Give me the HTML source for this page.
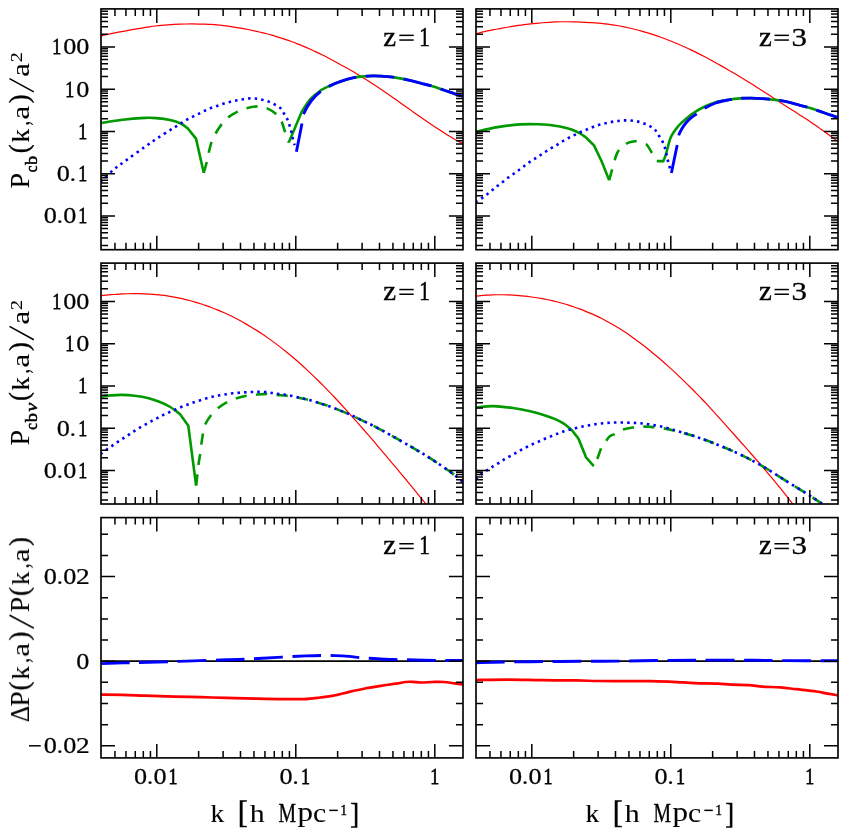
<!DOCTYPE html>
<html><head><meta charset="utf-8"><title>Power spectra</title>
<style>
html,body{margin:0;padding:0;background:#fff;}
body{width:845px;height:832px;overflow:hidden;font-family:"Liberation Serif",serif;}
svg{display:block;}
</style></head><body>
<svg width="845" height="832" viewBox="0 0 845 832">
<rect x="0" y="0" width="845" height="832" fill="#fff"/>
<defs>
<clipPath id="cp00"><rect x="101" y="8.9" width="362" height="240.8"/></clipPath>
<clipPath id="cp01"><rect x="476" y="8.9" width="362" height="240.8"/></clipPath>
<clipPath id="cp10"><rect x="101" y="263.1" width="362" height="240.9"/></clipPath>
<clipPath id="cp11"><rect x="476" y="263.1" width="362" height="240.9"/></clipPath>
<clipPath id="cp20"><rect x="101" y="517.6" width="362" height="240.3"/></clipPath>
<clipPath id="cp21"><rect x="476" y="517.6" width="362" height="240.3"/></clipPath>
</defs>
<g clip-path="url(#cp00)">
<path d="M100,35.97C101.03,35.75 104.11,35.13 106.17,34.69C108.23,34.26 110.28,33.79 112.34,33.37C114.4,32.94 116.45,32.55 118.51,32.17C120.56,31.78 122.62,31.43 124.68,31.06C126.73,30.7 128.79,30.33 130.85,29.95C132.9,29.58 134.96,29.18 137.02,28.82C139.07,28.46 141.13,28.13 143.19,27.79C145.24,27.46 147.3,27.12 149.36,26.82C151.41,26.52 153.47,26.23 155.53,25.98C157.58,25.73 159.64,25.52 161.69,25.33C163.75,25.13 165.81,24.98 167.86,24.83C169.92,24.68 171.98,24.55 174.03,24.43C176.09,24.32 178.15,24.22 180.2,24.14C182.26,24.07 184.32,24.02 186.37,23.99C188.43,23.95 190.49,23.93 192.54,23.94C194.6,23.95 196.66,23.99 198.71,24.03C200.77,24.06 202.82,24.1 204.88,24.17C206.94,24.24 208.99,24.31 211.05,24.43C213.11,24.56 215.16,24.72 217.22,24.92C219.28,25.11 221.33,25.35 223.39,25.6C225.45,25.84 227.5,26.11 229.56,26.39C231.62,26.68 233.67,26.98 235.73,27.31C237.79,27.63 239.84,27.98 241.9,28.34C243.95,28.71 246.01,29.11 248.07,29.52C250.12,29.93 252.18,30.36 254.24,30.81C256.29,31.26 258.35,31.73 260.41,32.22C262.46,32.72 264.52,33.22 266.58,33.76C268.63,34.29 270.69,34.85 272.75,35.45C274.8,36.05 276.86,36.69 278.92,37.35C280.97,38.01 283.03,38.69 285.08,39.39C287.14,40.09 289.2,40.81 291.25,41.56C293.31,42.3 295.37,43.07 297.42,43.86C299.48,44.66 301.54,45.48 303.59,46.34C305.65,47.2 307.71,48.1 309.76,49.02C311.82,49.94 313.88,50.88 315.93,51.85C317.99,52.82 320.05,53.81 322.1,54.83C324.16,55.85 326.21,56.89 328.27,57.96C330.33,59.03 332.38,60.13 334.44,61.25C336.5,62.37 338.55,63.53 340.61,64.66C342.67,65.8 344.72,66.89 346.78,68.04C348.84,69.19 350.89,70.37 352.95,71.56C355.01,72.76 357.06,73.97 359.12,75.22C361.18,76.47 363.23,77.76 365.29,79.06C367.34,80.37 369.4,81.69 371.46,83.04C373.51,84.38 375.57,85.74 377.63,87.12C379.68,88.49 381.74,89.89 383.8,91.29C385.85,92.7 387.91,94.12 389.97,95.55C392.02,96.98 394.08,98.42 396.14,99.86C398.19,101.31 400.25,102.76 402.31,104.22C404.36,105.67 406.42,107.13 408.47,108.59C410.53,110.04 412.59,111.5 414.64,112.95C416.7,114.4 418.76,115.85 420.81,117.28C422.87,118.71 424.93,120.14 426.98,121.55C429.04,122.96 431.1,124.36 433.15,125.73C435.21,127.1 437.27,128.46 439.32,129.79C441.38,131.12 443.44,132.43 445.49,133.7C447.55,134.97 449.6,136.22 451.66,137.43C453.72,138.63 455.77,139.81 457.83,140.94C459.89,142.07 462.97,143.67 464,144.21" fill="none" stroke="#ff0000" stroke-width="1.2" stroke-linejoin="round"/>
<path d="M100,123.3C103.75,122.7 115,120.6 122.5,119.7C130,118.8 139.38,118.17 145,117.9C150.62,117.63 152.03,117.75 156.2,118.1C160.37,118.45 165.9,119.1 170,120C174.1,120.9 177.83,122.1 180.8,123.5C183.77,124.9 186.63,127.58 187.8,128.4L196,138.7L203.75,172.8" fill="none" stroke="#009a00" stroke-width="2.6" stroke-linejoin="miter"/>
<path d="M203.75,172.8C204.26,170.98 205.98,165.25 206.8,161.9C207.62,158.55 207.9,156.03 208.7,152.7C209.5,149.37 210.48,145.05 211.6,141.9C212.72,138.75 213.77,136.68 215.4,133.8C217.03,130.92 219.32,127.3 221.4,124.6C223.48,121.9 225.2,119.77 227.9,117.6C230.6,115.43 234.53,113.17 237.6,111.6C240.67,110.03 243,109.07 246.3,108.2C249.6,107.33 254.1,106.45 257.4,106.4C260.7,106.35 263.03,106.67 266.1,107.9C269.17,109.13 273.28,111.65 275.8,113.8C278.32,115.95 279.67,117.82 281.2,120.8C282.73,123.78 283.73,128.08 285,131.7C286.27,135.32 288.17,140.7 288.8,142.5" fill="none" stroke="#009a00" stroke-width="2.6" stroke-dasharray="11.2 9.4" stroke-linejoin="round"/>
<path d="M288.8,142.5L301.8,111.6C303.23,109.53 307.15,102.8 310.4,99.2C313.65,95.6 318.05,92.25 321.3,90C324.55,87.75 326.67,87.13 329.9,85.7C333.13,84.27 336.73,82.73 340.7,81.4C344.67,80.07 349.67,78.55 353.7,77.7C357.73,76.85 361.53,76.6 364.9,76.3C368.27,76 370.15,75.85 373.9,75.9C377.65,75.95 383.27,76.23 387.4,76.6C391.53,76.97 394.95,77.47 398.7,78.1C402.45,78.73 406.15,79.53 409.9,80.4C413.65,81.27 417.45,82.33 421.2,83.3C424.95,84.27 428.65,85.08 432.4,86.2C436.15,87.32 439.95,88.72 443.7,90C447.45,91.28 451.68,92.85 454.9,93.9C458.12,94.95 461.65,95.9 463,96.3" fill="none" stroke="#009a00" stroke-width="2.6" stroke-linejoin="miter"/>
<path d="M100,182.2C102.25,180.13 109,173.55 113.5,169.8C118,166.05 121.75,163.53 127,159.7C132.25,155.87 139.83,150.45 145,146.8C150.17,143.15 153.75,140.63 158,137.8C162.25,134.97 167.42,131.73 170.5,129.8C173.58,127.87 174.57,127.38 176.5,126.2C178.43,125.02 180.22,123.87 182.1,122.7C183.98,121.53 185.85,120.28 187.8,119.2C189.75,118.12 191.82,117.18 193.8,116.2C195.78,115.22 197.72,114.28 199.7,113.3C201.68,112.32 203.72,111.22 205.7,110.3C207.68,109.38 209.57,108.57 211.6,107.8C213.63,107.03 215.82,106.42 217.9,105.7C219.98,104.98 221.98,104.17 224.1,103.5C226.22,102.83 228.43,102.23 230.6,101.7C232.77,101.17 234.93,100.72 237.1,100.3C239.27,99.88 241.45,99.52 243.6,99.2C245.75,98.88 247.75,98.48 250,98.4C252.25,98.32 254.93,98.45 257.1,98.7C259.27,98.95 260.97,99.37 263,99.9C265.03,100.43 267.25,101.08 269.3,101.9C271.35,102.72 273.4,103.72 275.3,104.8C277.2,105.88 279.2,106.85 280.7,108.4C282.2,109.95 283.13,112.17 284.3,114.1C285.47,116.03 286.8,118.02 287.7,120C288.6,121.98 289.07,123.92 289.7,126C290.33,128.08 290.97,130.38 291.5,132.5C292.03,134.62 292.37,136.58 292.9,138.7C293.43,140.82 294.4,144.12 294.7,145.2" fill="none" stroke="#0000ff" stroke-width="2.6" stroke-dasharray="2.5 4.1" stroke-dashoffset="-0.8" stroke-linejoin="round"/>
<path d="M296.4,151.7L302,123.5C302.27,121.92 302.02,117.83 303.6,114C305.18,110.17 308.55,104.33 311.5,100.5C314.45,96.67 318.23,93.43 321.3,91C324.37,88.57 326.67,87.5 329.9,85.9C333.13,84.3 336.73,82.77 340.7,81.4C344.67,80.03 349.67,78.55 353.7,77.7C357.73,76.85 361.53,76.6 364.9,76.3C368.27,76 370.15,75.85 373.9,75.9C377.65,75.95 383.27,76.23 387.4,76.6C391.53,76.97 394.95,77.47 398.7,78.1C402.45,78.73 406.15,79.53 409.9,80.4C413.65,81.27 417.45,82.33 421.2,83.3C424.95,84.27 428.65,85.08 432.4,86.2C436.15,87.32 439.95,88.72 443.7,90C447.45,91.28 451.68,92.85 454.9,93.9C458.12,94.95 461.65,95.9 463,96.3" fill="none" stroke="#0000ff" stroke-width="2.9" stroke-dasharray="28.7 9.6" stroke-linejoin="round"/>
</g>
<g clip-path="url(#cp01)">
<path d="M475,34.01C476.03,33.74 479.11,32.87 481.17,32.35C483.23,31.83 485.28,31.35 487.34,30.9C489.4,30.45 491.45,30.04 493.51,29.65C495.56,29.27 497.62,28.94 499.68,28.58C501.73,28.23 503.79,27.89 505.85,27.53C507.9,27.17 509.96,26.76 512.02,26.41C514.07,26.06 516.13,25.73 518.19,25.44C520.24,25.14 522.3,24.88 524.36,24.64C526.41,24.39 528.47,24.19 530.53,23.97C532.58,23.75 534.64,23.52 536.69,23.32C538.75,23.12 540.81,22.93 542.86,22.76C544.92,22.6 546.98,22.45 549.03,22.32C551.09,22.18 553.15,22.06 555.2,21.97C557.26,21.88 559.32,21.8 561.37,21.76C563.43,21.73 565.49,21.75 567.54,21.77C569.6,21.8 571.66,21.85 573.71,21.9C575.77,21.94 577.82,21.98 579.88,22.04C581.94,22.1 583.99,22.18 586.05,22.29C588.11,22.39 590.16,22.51 592.22,22.66C594.28,22.81 596.33,22.98 598.39,23.16C600.45,23.35 602.5,23.56 604.56,23.8C606.62,24.03 608.67,24.28 610.73,24.56C612.79,24.84 614.84,25.13 616.9,25.48C618.95,25.83 621.01,26.24 623.07,26.66C625.12,27.08 627.18,27.52 629.24,27.98C631.29,28.45 633.35,28.94 635.41,29.46C637.46,29.97 639.52,30.51 641.58,31.08C643.63,31.65 645.69,32.24 647.75,32.87C649.8,33.5 651.86,34.15 653.92,34.83C655.97,35.51 658.03,36.22 660.08,36.96C662.14,37.69 664.2,38.46 666.25,39.24C668.31,40.03 670.37,40.85 672.42,41.69C674.48,42.52 676.54,43.38 678.59,44.26C680.65,45.15 682.71,46.06 684.76,47C686.82,47.94 688.88,48.9 690.93,49.89C692.99,50.87 695.05,51.87 697.1,52.9C699.16,53.92 701.21,54.97 703.27,56.04C705.33,57.11 707.38,58.2 709.44,59.31C711.5,60.42 713.55,61.56 715.61,62.7C717.67,63.84 719.72,64.97 721.78,66.13C723.84,67.29 725.89,68.47 727.95,69.66C730.01,70.85 732.06,72.06 734.12,73.27C736.18,74.49 738.23,75.72 740.29,76.95C742.34,78.19 744.4,79.42 746.46,80.69C748.51,81.95 750.57,83.23 752.63,84.54C754.68,85.84 756.74,87.18 758.8,88.51C760.85,89.84 762.91,91.17 764.97,92.5C767.02,93.83 769.08,95.17 771.14,96.5C773.19,97.83 775.25,99.16 777.31,100.48C779.36,101.81 781.42,103.13 783.47,104.46C785.53,105.78 787.59,107.1 789.64,108.41C791.7,109.73 793.76,111.04 795.81,112.36C797.87,113.67 799.93,114.96 801.98,116.3C804.04,117.63 806.1,118.99 808.15,120.37C810.21,121.75 812.27,123.18 814.32,124.6C816.38,126.01 818.44,127.43 820.49,128.88C822.55,130.32 824.6,131.77 826.66,133.25C828.72,134.73 830.77,136.24 832.83,137.75C834.89,139.27 837.97,141.56 839,142.32" fill="none" stroke="#ff0000" stroke-width="1.2" stroke-linejoin="round"/>
<path d="M475,131.9C478.75,131.1 490,128.35 497.5,127.1C505,125.85 513.25,124.88 520,124.4C526.75,123.92 533,124.1 538,124.2C543,124.3 546.33,124.6 550,125C553.67,125.4 556.53,125.88 560,126.6C563.47,127.32 567.55,128.22 570.8,129.3C574.05,130.38 576.97,131.73 579.5,133.1C582.03,134.47 584.92,136.77 586,137.5L594.1,145.6L601.6,161.3L609.2,180.2" fill="none" stroke="#009a00" stroke-width="2.6" stroke-linejoin="miter"/>
<path d="M609.2,180.2C609.88,177.72 612.05,169.65 613.3,165.3C614.55,160.95 615.38,157.08 616.7,154.1C618.02,151.12 619.33,149.27 621.2,147.4C623.07,145.53 625.47,143.92 627.9,142.9C630.33,141.88 632.88,141.1 635.8,141.3C638.72,141.5 643.35,143.23 645.4,144.1C647.45,144.97 647.02,145.02 648.1,146.5C649.18,147.98 651.27,151.92 651.9,153" fill="none" stroke="#009a00" stroke-width="2.6" stroke-dasharray="11.2 9.4" stroke-linejoin="round"/>
<path d="M656.8,161.1L663.3,161.1C663.75,159.93 664.75,158.07 666,154.1C667.25,150.13 668.73,141.98 670.8,137.3C672.87,132.62 675.78,129.15 678.4,126C681.02,122.85 683.7,120.75 686.5,118.4C689.3,116.05 692.13,113.88 695.2,111.9C698.27,109.92 701.48,108.12 704.9,106.5C708.32,104.88 711.73,103.33 715.7,102.2C719.67,101.07 724.65,100.33 728.7,99.7C732.75,99.07 736.25,98.67 740,98.4C743.75,98.13 747.47,98.07 751.2,98.1C754.93,98.13 758.65,98.33 762.4,98.6C766.15,98.87 769.95,99.25 773.7,99.7C777.45,100.15 781.15,100.55 784.9,101.3C788.65,102.05 792.45,103.2 796.2,104.2C799.95,105.2 803.65,106.18 807.4,107.3C811.15,108.42 814.95,109.65 818.7,110.9C822.45,112.15 826.68,113.7 829.9,114.8C833.12,115.9 836.65,117.05 838,117.5" fill="none" stroke="#009a00" stroke-width="2.6" stroke-linejoin="miter"/>
<path d="M475,202.7C475.27,202.5 475.43,202.27 476.6,201.5C477.77,200.73 480.23,199.32 482,198.1C483.77,196.88 485.45,195.57 487.2,194.2C488.95,192.83 490.78,191.28 492.5,189.9C494.22,188.52 495.78,187.23 497.5,185.9C499.22,184.57 501.05,183.27 502.8,181.9C504.55,180.53 506.23,179.02 508,177.7C509.77,176.38 511.73,175.17 513.4,174C515.07,172.83 516.33,171.92 518,170.7C519.67,169.48 521.65,168.02 523.4,166.7C525.15,165.38 526.7,164.07 528.5,162.8C530.3,161.53 532.35,160.3 534.2,159.1C536.05,157.9 537.78,156.78 539.6,155.6C541.42,154.42 543.25,153.18 545.1,152C546.95,150.82 548.8,149.65 550.7,148.5C552.6,147.35 554.62,146.25 556.5,145.1C558.38,143.95 560.15,142.7 562,141.6C563.85,140.5 565.68,139.52 567.6,138.5C569.52,137.48 571.52,136.48 573.5,135.5C575.48,134.52 577.52,133.5 579.5,132.6C581.48,131.7 583.37,130.95 585.4,130.1C587.43,129.25 589.62,128.32 591.7,127.5C593.78,126.68 595.78,125.85 597.9,125.2C600.02,124.55 602.25,124.12 604.4,123.6C606.55,123.08 608.65,122.53 610.8,122.1C612.95,121.67 615.1,121.28 617.3,121C619.5,120.72 621.8,120.48 624,120.4C626.2,120.32 628.33,120.33 630.5,120.5C632.67,120.67 634.85,120.95 637,121.4C639.15,121.85 641.33,122.47 643.4,123.2C645.47,123.93 647.48,124.72 649.4,125.8C651.32,126.88 653.37,128.13 654.9,129.7C656.43,131.27 657.38,133.33 658.6,135.2C659.82,137.07 661.18,138.92 662.2,140.9C663.22,142.88 664.03,145.05 664.7,147.1C665.37,149.15 665.72,151.13 666.2,153.2C666.68,155.27 667.07,157.33 667.6,159.5C668.13,161.67 668.8,164 669.4,166.2C670,168.4 670.9,171.62 671.2,172.7" fill="none" stroke="#0000ff" stroke-width="2.6" stroke-dasharray="2.5 4.1" stroke-dashoffset="-0.8" stroke-linejoin="round"/>
<path d="M671.4,173L677,146C677.23,144.37 677.57,139.12 678.4,136.2C679.23,133.28 680.65,130.83 682,128.5C683.35,126.17 685,123.98 686.5,122.2C688,120.42 689.37,119.15 691,117.8C692.63,116.45 694.07,115.67 696.3,114.1C698.53,112.53 701.17,110.25 704.4,108.4C707.63,106.55 711.65,104.42 715.7,103C719.75,101.58 724.65,100.67 728.7,99.9C732.75,99.13 736.25,98.7 740,98.4C743.75,98.1 747.47,98.07 751.2,98.1C754.93,98.13 758.65,98.33 762.4,98.6C766.15,98.87 769.95,99.25 773.7,99.7C777.45,100.15 781.15,100.55 784.9,101.3C788.65,102.05 792.45,103.2 796.2,104.2C799.95,105.2 803.65,106.18 807.4,107.3C811.15,108.42 814.95,109.65 818.7,110.9C822.45,112.15 826.68,113.7 829.9,114.8C833.12,115.9 836.65,117.05 838,117.5" fill="none" stroke="#0000ff" stroke-width="2.9" stroke-dasharray="28.7 9.6" stroke-linejoin="round"/>
</g>
<g clip-path="url(#cp10)">
<path d="M100,295.74C100.93,295.65 103.73,295.37 105.59,295.2C107.46,295.03 109.32,294.86 111.19,294.71C113.05,294.56 114.92,294.42 116.78,294.29C118.64,294.17 120.51,294.06 122.37,293.97C124.24,293.88 126.1,293.82 127.97,293.77C129.83,293.71 131.69,293.67 133.56,293.66C135.42,293.64 137.29,293.64 139.15,293.67C141.02,293.69 142.88,293.75 144.75,293.82C146.61,293.9 148.47,294 150.34,294.13C152.2,294.26 154.07,294.42 155.93,294.6C157.8,294.78 159.66,294.99 161.53,295.22C163.39,295.44 165.25,295.68 167.12,295.95C168.98,296.22 170.85,296.52 172.71,296.85C174.58,297.18 176.44,297.53 178.31,297.91C180.17,298.29 182.03,298.7 183.9,299.13C185.76,299.57 187.63,300.03 189.49,300.52C191.36,301 193.22,301.52 195.08,302.06C196.95,302.61 198.81,303.18 200.68,303.77C202.54,304.37 204.41,305 206.27,305.65C208.14,306.3 210,306.98 211.86,307.69C213.73,308.39 215.59,309.13 217.46,309.89C219.32,310.65 221.19,311.44 223.05,312.26C224.92,313.08 226.78,313.92 228.64,314.8C230.51,315.68 232.37,316.6 234.24,317.55C236.1,318.5 237.97,319.48 239.83,320.49C241.69,321.5 243.56,322.54 245.42,323.61C247.29,324.68 249.15,325.77 251.02,326.9C252.88,328.03 254.75,329.19 256.61,330.38C258.47,331.56 260.34,332.78 262.2,334.03C264.07,335.28 265.93,336.56 267.8,337.87C269.66,339.18 271.53,340.52 273.39,341.89C275.25,343.26 277.12,344.66 278.98,346.1C280.85,347.53 282.71,348.99 284.58,350.49C286.44,351.98 288.31,353.5 290.17,355.06C292.03,356.61 293.9,358.2 295.76,359.81C297.63,361.42 299.49,363.07 301.36,364.74C303.22,366.41 305.08,368.11 306.95,369.84C308.81,371.57 310.68,373.33 312.54,375.11C314.41,376.9 316.27,378.71 318.14,380.55C320,382.38 321.86,384.25 323.73,386.13C325.59,388.02 327.46,389.93 329.32,391.87C331.19,393.8 333.05,395.76 334.92,397.74C336.78,399.71 338.64,401.72 340.51,403.73C342.37,405.75 344.24,407.79 346.1,409.84C347.97,411.9 349.83,413.97 351.69,416.06C353.56,418.15 355.42,420.25 357.29,422.37C359.15,424.48 361.02,426.62 362.88,428.76C364.75,430.9 366.61,433.05 368.47,435.22C370.34,437.38 372.2,439.55 374.07,441.73C375.93,443.91 377.8,446.1 379.66,448.3C381.53,450.49 383.39,452.7 385.25,454.91C387.12,457.11 388.98,459.33 390.85,461.55C392.71,463.77 394.58,465.99 396.44,468.22C398.31,470.45 400.17,472.69 402.03,474.93C403.9,477.17 405.76,479.41 407.63,481.67C409.49,483.92 411.36,486.18 413.22,488.46C415.08,490.73 416.95,493.01 418.81,495.3C420.68,497.6 422.54,499.91 424.41,502.23C426.27,504.56 429.07,508.1 430,509.28" fill="none" stroke="#ff0000" stroke-width="1.2" stroke-linejoin="round"/>
<path d="M100,396.6C100.37,396.57 100.37,396.6 102.2,396.4C104.03,396.2 107.77,395.65 111,395.4C114.23,395.15 117.67,394.85 121.6,394.9C125.53,394.95 130.08,395.15 134.6,395.7C139.12,396.25 144.37,397.12 148.7,398.2C153.03,399.28 157,400.73 160.6,402.2C164.2,403.67 167.07,405.02 170.3,407C173.53,408.98 178.38,412.92 180,414.1L188.3,425.8L196.1,485.5" fill="none" stroke="#009a00" stroke-width="2.6" stroke-linejoin="miter"/>
<path d="M196.1,485.5C196.32,483.73 197.02,478.32 197.4,474.9C197.78,471.48 197.93,468.52 198.4,465C198.87,461.48 199.72,457.22 200.2,453.8C200.68,450.38 200.82,447.92 201.3,444.5C201.78,441.08 202.47,436.6 203.1,433.3C203.73,430 203.78,427.72 205.1,424.7C206.42,421.68 208.92,417.9 211,415.2C213.08,412.5 214.92,410.67 217.6,408.5C220.28,406.33 224.08,403.85 227.1,402.2C230.12,400.55 232.47,399.67 235.7,398.6C238.93,397.53 243.17,396.45 246.5,395.8C249.83,395.15 252.25,395.02 255.7,394.7C259.15,394.38 263.65,393.87 267.2,393.9C270.75,393.93 273.62,394.57 277,394.9C280.38,395.23 284.25,395.48 287.5,395.9C290.75,396.32 293.62,396.9 296.5,397.4C299.38,397.9 302.35,398.37 304.8,398.9C307.25,399.43 309.08,400 311.2,400.6C313.32,401.2 315.4,401.83 317.5,402.5C319.6,403.17 321.73,403.93 323.8,404.6C325.87,405.27 327.82,405.77 329.9,406.5C331.98,407.23 334.22,408.18 336.3,409C338.38,409.82 340.35,410.57 342.4,411.4C344.45,412.23 346.6,413.12 348.6,414C350.6,414.88 351.45,415.3 354.4,416.7C357.35,418.1 363.3,420.97 366.3,422.4C369.3,423.83 369.45,423.8 372.4,425.3C375.35,426.8 381.12,429.85 384,431.4C386.88,432.95 387.03,433.1 389.7,434.6C392.37,436.1 395.13,437.62 400,440.4C404.87,443.18 412.92,447.7 418.9,451.3C424.88,454.9 430.22,458.23 435.9,462C441.58,465.77 448.48,470.57 453,473.9C457.52,477.23 461.33,480.65 463,482" fill="none" stroke="#009a00" stroke-width="2.6" stroke-dasharray="11.2 9.4" stroke-linejoin="round"/>
<path d="M100,454.5C100.27,454.3 100.43,454.18 101.6,453.3C102.77,452.42 105.15,450.52 107,449.2C108.85,447.88 110.85,446.65 112.7,445.4C114.55,444.15 116.28,442.92 118.1,441.7C119.92,440.48 121.75,439.32 123.6,438.1C125.45,436.88 127.37,435.62 129.2,434.4C131.03,433.18 132.75,431.97 134.6,430.8C136.45,429.63 138.37,428.52 140.3,427.4C142.23,426.28 144.27,425.18 146.2,424.1C148.13,423.02 149.98,421.93 151.9,420.9C153.82,419.87 155.77,418.92 157.7,417.9C159.63,416.88 161.52,415.77 163.5,414.8C165.48,413.83 167.6,412.98 169.6,412.1C171.6,411.22 173.45,410.39 175.5,409.5C177.55,408.61 179.82,407.59 181.9,406.75C183.98,405.91 185.97,405.21 188,404.45C190.03,403.69 192.03,402.91 194.1,402.2C196.17,401.49 198.28,400.87 200.4,400.2C202.52,399.53 204.65,398.8 206.8,398.2C208.95,397.6 211.17,397.08 213.3,396.6C215.43,396.12 217.45,395.68 219.6,395.3C221.75,394.92 224,394.63 226.2,394.3C228.4,393.97 230.6,393.57 232.8,393.3C235,393.03 237.18,392.87 239.4,392.7C241.62,392.53 243.88,392.42 246.1,392.3C248.32,392.18 250.5,392.07 252.7,392C254.9,391.93 257.03,391.88 259.3,391.9C261.57,391.92 264.12,391.92 266.3,392.1C268.48,392.28 270.32,392.68 272.4,393C274.48,393.32 276.65,393.7 278.8,394C280.95,394.3 283.1,394.48 285.3,394.8C287.5,395.12 289.82,395.45 292,395.9C294.18,396.35 296.27,397 298.4,397.5C300.53,398 302.67,398.38 304.8,398.9C306.93,399.42 309.08,400 311.2,400.6C313.32,401.2 315.4,401.83 317.5,402.5C319.6,403.17 321.73,403.93 323.8,404.6C325.87,405.27 327.82,405.77 329.9,406.5C331.98,407.23 334.22,408.18 336.3,409C338.38,409.82 340.35,410.57 342.4,411.4C344.45,412.23 346.6,413.12 348.6,414C350.6,414.88 351.45,415.3 354.4,416.7C357.35,418.1 363.3,420.97 366.3,422.4C369.3,423.83 369.45,423.8 372.4,425.3C375.35,426.8 381.12,429.85 384,431.4C386.88,432.95 387.03,433.1 389.7,434.6C392.37,436.1 395.13,437.62 400,440.4C404.87,443.18 412.92,447.7 418.9,451.3C424.88,454.9 430.22,458.23 435.9,462C441.58,465.77 448.48,470.57 453,473.9C457.52,477.23 461.33,480.65 463,482" fill="none" stroke="#0000ff" stroke-width="2.6" stroke-dasharray="2.5 4.1" stroke-dashoffset="-0.8" stroke-linejoin="round"/>
</g>
<g clip-path="url(#cp11)">
<path d="M475,296.31C475.92,296.21 478.67,295.86 480.51,295.68C482.34,295.5 484.18,295.35 486.02,295.22C487.85,295.1 489.69,295 491.53,294.92C493.36,294.85 495.2,294.8 497.03,294.77C498.87,294.74 500.71,294.74 502.54,294.76C504.38,294.78 506.21,294.83 508.05,294.89C509.89,294.96 511.72,295.05 513.56,295.16C515.4,295.27 517.23,295.4 519.07,295.56C520.9,295.71 522.74,295.89 524.58,296.08C526.41,296.28 528.25,296.5 530.08,296.74C531.92,296.98 533.76,297.24 535.59,297.53C537.43,297.81 539.27,298.12 541.1,298.44C542.94,298.77 544.77,299.12 546.61,299.5C548.45,299.87 550.28,300.27 552.12,300.69C553.95,301.11 555.79,301.56 557.63,302.03C559.46,302.5 561.3,303 563.14,303.52C564.97,304.04 566.81,304.59 568.64,305.16C570.48,305.73 572.32,306.33 574.15,306.96C575.99,307.59 577.82,308.25 579.66,308.93C581.5,309.62 583.33,310.33 585.17,311.07C587.01,311.82 588.84,312.59 590.68,313.39C592.51,314.2 594.35,315.03 596.19,315.9C598.02,316.76 599.86,317.66 601.69,318.59C603.53,319.52 605.37,320.48 607.2,321.48C609.04,322.47 610.88,323.5 612.71,324.56C614.55,325.62 616.38,326.72 618.22,327.85C620.06,328.97 621.89,330.14 623.73,331.33C625.56,332.53 627.4,333.76 629.24,335.02C631.07,336.28 632.91,337.58 634.75,338.91C636.58,340.24 638.42,341.6 640.25,343C642.09,344.4 643.93,345.83 645.76,347.29C647.6,348.74 649.44,350.24 651.27,351.73C653.11,353.23 654.94,354.72 656.78,356.26C658.62,357.79 660.45,359.36 662.29,360.96C664.12,362.56 665.96,364.18 667.8,365.84C669.63,367.49 671.47,369.17 673.31,370.88C675.14,372.58 676.98,374.32 678.81,376.07C680.65,377.82 682.49,379.58 684.32,381.37C686.16,383.15 687.99,384.95 689.83,386.78C691.67,388.6 693.5,390.45 695.34,392.31C697.18,394.17 699.01,396.04 700.85,397.94C702.68,399.84 704.52,401.75 706.36,403.71C708.19,405.68 710.03,407.71 711.86,409.72C713.7,411.74 715.54,413.76 717.37,415.79C719.21,417.83 721.05,419.87 722.88,421.91C724.72,423.96 726.55,426.02 728.39,428.08C730.23,430.14 732.06,432.2 733.9,434.27C735.73,436.34 737.57,438.41 739.41,440.49C741.24,442.56 743.08,444.64 744.92,446.72C746.75,448.81 748.59,450.89 750.42,452.98C752.26,455.07 754.1,457.14 755.93,459.26C757.77,461.37 759.6,463.52 761.44,465.67C763.28,467.83 765.11,469.99 766.95,472.16C768.79,474.34 770.62,476.52 772.46,478.72C774.29,480.91 776.13,483.12 777.97,485.36C779.8,487.6 781.64,489.84 783.47,492.13C785.31,494.42 787.15,496.72 788.98,499.07C790.82,501.42 792.66,503.8 794.49,506.23C796.33,508.66 799.08,512.43 800,513.67" fill="none" stroke="#ff0000" stroke-width="1.2" stroke-linejoin="round"/>
<path d="M475,407.7C475.37,407.65 474.13,407.67 477.2,407.4C480.27,407.13 487.45,406 493.4,406.1C499.35,406.2 506.95,407.18 512.9,408C518.85,408.82 524.23,409.92 529.1,411C533.97,412.08 538.13,413.28 542.1,414.5C546.07,415.72 549.87,417.12 552.9,418.3C555.93,419.48 558.22,420.52 560.3,421.6C562.38,422.68 563.47,423.35 565.4,424.8C567.33,426.25 569.7,427.95 571.9,430.3C574.1,432.65 577.48,437.47 578.6,438.9L586,457.3L593.8,466.2" fill="none" stroke="#009a00" stroke-width="2.6" stroke-linejoin="miter"/>
<path d="M597.3,459C597.9,457.28 599.95,451.2 600.9,448.7C601.85,446.2 602.15,445.3 603,444C603.85,442.7 604.87,442.2 606,440.9C607.13,439.6 608.37,437.33 609.8,436.2C611.23,435.07 612.35,435.23 614.6,434.1C616.85,432.97 620.05,430.53 623.3,429.4C626.55,428.27 630.77,427.77 634.1,427.3C637.43,426.83 640.65,426.68 643.3,426.6C645.95,426.52 647.22,426.6 650,426.8C652.78,427 656.25,427.23 660,427.8C663.75,428.37 666.67,428.77 672.5,430.2C678.33,431.63 687.5,433.98 695,436.4C702.5,438.82 710,441.7 717.5,444.7C725,447.7 732.52,450.83 740,454.4C747.48,457.97 754.92,461.8 762.4,466.1C769.88,470.4 777.4,475.53 784.9,480.2C792.4,484.87 801.03,490.07 807.4,494.1C813.77,498.13 819,501.72 823.1,504.4C827.2,507.08 830.52,509.23 832,510.2" fill="none" stroke="#009a00" stroke-width="2.6" stroke-dasharray="11.2 9.4" stroke-linejoin="round"/>
<path d="M475,479.6C475.37,479.3 475.97,478.83 477.2,477.8C478.43,476.77 480.6,474.77 482.4,473.4C484.2,472.03 486.17,470.8 488,469.6C489.83,468.4 491.57,467.33 493.4,466.2C495.23,465.07 497.12,463.98 499,462.8C500.88,461.62 502.78,460.25 504.7,459.1C506.62,457.95 508.57,456.97 510.5,455.9C512.43,454.83 514.37,453.78 516.3,452.7C518.23,451.62 520.15,450.45 522.1,449.4C524.05,448.35 526.02,447.38 528,446.4C529.98,445.42 532.02,444.4 534,443.5C535.98,442.6 537.92,441.87 539.9,441C541.88,440.13 543.88,439.15 545.9,438.3C547.92,437.45 549.93,436.72 552,435.9C554.07,435.08 556.25,434.18 558.3,433.4C560.35,432.62 562.22,431.87 564.3,431.2C566.38,430.53 568.63,429.97 570.8,429.4C572.97,428.83 575.13,428.32 577.3,427.8C579.47,427.28 581.63,426.75 583.8,426.3C585.97,425.85 588.13,425.48 590.3,425.1C592.47,424.72 594.63,424.3 596.8,424C598.97,423.7 601.13,423.52 603.3,423.3C605.47,423.08 607.6,422.83 609.8,422.7C612,422.57 614.28,422.53 616.5,422.5C618.72,422.47 620.88,422.47 623.1,422.5C625.32,422.53 627.6,422.62 629.8,422.7C632,422.78 634.13,422.87 636.3,423C638.47,423.13 640.65,423.28 642.8,423.5C644.95,423.72 646.33,423.83 649.2,424.3C652.07,424.77 656.12,425.42 660,426.3C663.88,427.18 666.67,427.92 672.5,429.6C678.33,431.28 687.5,433.88 695,436.4C702.5,438.92 710,441.7 717.5,444.7C725,447.7 732.52,450.83 740,454.4C747.48,457.97 754.92,461.8 762.4,466.1C769.88,470.4 777.4,475.53 784.9,480.2C792.4,484.87 801.03,490.07 807.4,494.1C813.77,498.13 819,501.72 823.1,504.4C827.2,507.08 830.52,509.23 832,510.2" fill="none" stroke="#0000ff" stroke-width="2.6" stroke-dasharray="2.5 4.1" stroke-dashoffset="-0.8" stroke-linejoin="round"/>
</g>
<g clip-path="url(#cp20)">
<path d="M101,661.1L463,661.1" fill="none" stroke="#000" stroke-width="1.6" stroke-linejoin="round"/>
<path d="M101,663.6C105.83,663.45 118.92,663.02 130,662.7C141.08,662.38 154.7,662.08 167.5,661.7C180.3,661.32 194.07,660.8 206.8,660.4C219.53,660 231.35,659.85 243.9,659.3C256.45,658.75 271.75,657.67 282.1,657.1C292.45,656.53 299.5,656.17 306,655.9C312.5,655.63 316.27,655.55 321.1,655.5C325.93,655.45 330.32,655.45 335,655.6C339.68,655.75 345.15,656.07 349.2,656.4C353.25,656.73 356.12,657.3 359.3,657.6C362.48,657.9 363.98,657.92 368.3,658.2C372.62,658.48 380.32,659.07 385.2,659.3C390.08,659.53 394.03,659.52 397.6,659.6C401.17,659.68 400.23,659.67 406.6,659.8C412.97,659.93 426.4,660.3 435.8,660.4C445.2,660.5 458.47,660.4 463,660.4" fill="none" stroke="#0000ff" stroke-width="2.9" stroke-dasharray="28.7 9.6" stroke-linejoin="round"/>
<path d="M100,694.6C103.75,694.63 115,694.62 122.5,694.8C130,694.98 137.5,695.43 145,695.7C152.5,695.97 160,696.2 167.5,696.4C175,696.6 182.52,696.72 190,696.9C197.48,697.08 204.92,697.28 212.4,697.5C219.88,697.72 227.4,698 234.9,698.2C242.4,698.4 249.9,698.55 257.4,698.7C264.9,698.85 274.72,699.03 279.9,699.1C285.08,699.17 284.45,699.1 288.5,699.1C292.55,699.1 298.95,699.37 304.2,699.1C309.45,698.83 315.12,698.07 320,697.5C324.88,696.93 328.63,696.63 333.5,695.7C338.37,694.77 343.97,693.1 349.2,691.9C354.43,690.7 359.65,689.52 364.9,688.5C370.15,687.48 375.45,686.62 380.7,685.8C385.95,684.98 392.28,684.23 396.4,683.6C400.52,682.97 402.77,682.3 405.4,682C408.03,681.7 409.57,681.72 412.2,681.8C414.83,681.88 417.83,682.47 421.2,682.5C424.57,682.53 428.65,682.08 432.4,682C436.15,681.92 439.95,681.77 443.7,682C447.45,682.23 451.68,682.98 454.9,683.4C458.12,683.82 461.65,684.32 463,684.5" fill="none" stroke="#ff0000" stroke-width="2.7" stroke-linejoin="round"/>
</g>
<g clip-path="url(#cp21)">
<path d="M476,661.1L838,661.1" fill="none" stroke="#000" stroke-width="1.6" stroke-linejoin="round"/>
<path d="M476,662.7C480.7,662.58 493.12,662.18 504.2,662C515.28,661.82 529.57,661.72 542.5,661.6C555.43,661.48 569.07,661.38 581.8,661.3C594.53,661.22 606.35,661.23 618.9,661.1C631.45,660.97 644.42,660.65 657.1,660.5C669.78,660.35 681.18,660.25 695,660.2C708.82,660.15 725,660.13 740,660.2C755,660.27 768.67,660.5 785,660.6C801.33,660.7 829.17,660.77 838,660.8" fill="none" stroke="#0000ff" stroke-width="2.9" stroke-dasharray="28.7 9.6" stroke-linejoin="round"/>
<path d="M475,680C480.62,679.93 497.45,679.57 508.7,679.6C519.95,679.63 531.25,680.07 542.5,680.2C553.75,680.33 566.95,680.27 576.2,680.4C585.45,680.53 590.5,680.88 598,681C605.5,681.12 613.58,681.08 621.2,681.1C628.82,681.12 638.9,681.1 643.7,681.1C648.5,681.1 645.2,680.98 650,681.1C654.8,681.22 665,681.47 672.5,681.8C680,682.13 687.5,682.8 695,683.1C702.5,683.4 711.5,683.33 717.5,683.6C723.5,683.87 725.77,684.43 731,684.7C736.23,684.97 743.67,684.87 748.9,685.2C754.13,685.53 757.15,686.33 762.4,686.7C767.65,687.07 774.77,686.98 780.4,687.4C786.03,687.82 790.2,688.52 796.2,689.2C802.2,689.88 811.15,690.75 816.4,691.5C821.65,692.25 824.1,693.07 827.7,693.7C831.3,694.33 836.28,695.03 838,695.3" fill="none" stroke="#ff0000" stroke-width="2.7" stroke-linejoin="round"/>
</g>
<path d="M114.96,8.9v7M114.96,249.7v-7M125.96,8.9v7M125.96,249.7v-7M135.27,8.9v7M135.27,249.7v-7M143.33,8.9v7M143.33,249.7v-7M150.44,8.9v7M150.44,249.7v-7M156.8,8.9v14M156.8,249.7v-14M198.64,8.9v7M198.64,249.7v-7M223.12,8.9v7M223.12,249.7v-7M240.49,8.9v7M240.49,249.7v-7M253.96,8.9v7M253.96,249.7v-7M264.96,8.9v7M264.96,249.7v-7M274.27,8.9v7M274.27,249.7v-7M282.33,8.9v7M282.33,249.7v-7M289.44,8.9v7M289.44,249.7v-7M295.8,8.9v14M295.8,249.7v-14M337.64,8.9v7M337.64,249.7v-7M362.12,8.9v7M362.12,249.7v-7M379.49,8.9v7M379.49,249.7v-7M392.96,8.9v7M392.96,249.7v-7M403.96,8.9v7M403.96,249.7v-7M413.27,8.9v7M413.27,249.7v-7M421.33,8.9v7M421.33,249.7v-7M428.44,8.9v7M428.44,249.7v-7M434.8,8.9v14M434.8,249.7v-14M101,245.43h7M463,245.43h-7M101,237.99h7M463,237.99h-7M101,232.71h7M463,232.71h-7M101,228.62h7M463,228.62h-7M101,225.27h7M463,225.27h-7M101,222.44h7M463,222.44h-7M101,219.99h7M463,219.99h-7M101,217.83h7M463,217.83h-7M101,215.9h14M463,215.9h-14M101,203.18h7M463,203.18h-7M101,195.74h7M463,195.74h-7M101,190.46h7M463,190.46h-7M101,186.37h7M463,186.37h-7M101,183.02h7M463,183.02h-7M101,180.19h7M463,180.19h-7M101,177.74h7M463,177.74h-7M101,175.58h7M463,175.58h-7M101,173.65h14M463,173.65h-14M101,160.93h7M463,160.93h-7M101,153.49h7M463,153.49h-7M101,148.21h7M463,148.21h-7M101,144.12h7M463,144.12h-7M101,140.77h7M463,140.77h-7M101,137.94h7M463,137.94h-7M101,135.49h7M463,135.49h-7M101,133.33h7M463,133.33h-7M101,131.4h14M463,131.4h-14M101,118.68h7M463,118.68h-7M101,111.24h7M463,111.24h-7M101,105.96h7M463,105.96h-7M101,101.87h7M463,101.87h-7M101,98.52h7M463,98.52h-7M101,95.69h7M463,95.69h-7M101,93.24h7M463,93.24h-7M101,91.08h7M463,91.08h-7M101,89.15h14M463,89.15h-14M101,76.43h7M463,76.43h-7M101,68.99h7M463,68.99h-7M101,63.71h7M463,63.71h-7M101,59.62h7M463,59.62h-7M101,56.27h7M463,56.27h-7M101,53.44h7M463,53.44h-7M101,50.99h7M463,50.99h-7M101,48.83h7M463,48.83h-7M101,46.9h14M463,46.9h-14M101,34.18h7M463,34.18h-7M101,26.74h7M463,26.74h-7M101,21.46h7M463,21.46h-7M101,17.37h7M463,17.37h-7M101,14.02h7M463,14.02h-7M101,11.19h7M463,11.19h-7M489.96,8.9v7M489.96,249.7v-7M500.96,8.9v7M500.96,249.7v-7M510.27,8.9v7M510.27,249.7v-7M518.33,8.9v7M518.33,249.7v-7M525.44,8.9v7M525.44,249.7v-7M531.8,8.9v14M531.8,249.7v-14M573.64,8.9v7M573.64,249.7v-7M598.12,8.9v7M598.12,249.7v-7M615.49,8.9v7M615.49,249.7v-7M628.96,8.9v7M628.96,249.7v-7M639.96,8.9v7M639.96,249.7v-7M649.27,8.9v7M649.27,249.7v-7M657.33,8.9v7M657.33,249.7v-7M664.44,8.9v7M664.44,249.7v-7M670.8,8.9v14M670.8,249.7v-14M712.64,8.9v7M712.64,249.7v-7M737.12,8.9v7M737.12,249.7v-7M754.49,8.9v7M754.49,249.7v-7M767.96,8.9v7M767.96,249.7v-7M778.96,8.9v7M778.96,249.7v-7M788.27,8.9v7M788.27,249.7v-7M796.33,8.9v7M796.33,249.7v-7M803.44,8.9v7M803.44,249.7v-7M809.8,8.9v14M809.8,249.7v-14M476,245.43h7M838,245.43h-7M476,237.99h7M838,237.99h-7M476,232.71h7M838,232.71h-7M476,228.62h7M838,228.62h-7M476,225.27h7M838,225.27h-7M476,222.44h7M838,222.44h-7M476,219.99h7M838,219.99h-7M476,217.83h7M838,217.83h-7M476,215.9h14M838,215.9h-14M476,203.18h7M838,203.18h-7M476,195.74h7M838,195.74h-7M476,190.46h7M838,190.46h-7M476,186.37h7M838,186.37h-7M476,183.02h7M838,183.02h-7M476,180.19h7M838,180.19h-7M476,177.74h7M838,177.74h-7M476,175.58h7M838,175.58h-7M476,173.65h14M838,173.65h-14M476,160.93h7M838,160.93h-7M476,153.49h7M838,153.49h-7M476,148.21h7M838,148.21h-7M476,144.12h7M838,144.12h-7M476,140.77h7M838,140.77h-7M476,137.94h7M838,137.94h-7M476,135.49h7M838,135.49h-7M476,133.33h7M838,133.33h-7M476,131.4h14M838,131.4h-14M476,118.68h7M838,118.68h-7M476,111.24h7M838,111.24h-7M476,105.96h7M838,105.96h-7M476,101.87h7M838,101.87h-7M476,98.52h7M838,98.52h-7M476,95.69h7M838,95.69h-7M476,93.24h7M838,93.24h-7M476,91.08h7M838,91.08h-7M476,89.15h14M838,89.15h-14M476,76.43h7M838,76.43h-7M476,68.99h7M838,68.99h-7M476,63.71h7M838,63.71h-7M476,59.62h7M838,59.62h-7M476,56.27h7M838,56.27h-7M476,53.44h7M838,53.44h-7M476,50.99h7M838,50.99h-7M476,48.83h7M838,48.83h-7M476,46.9h14M838,46.9h-14M476,34.18h7M838,34.18h-7M476,26.74h7M838,26.74h-7M476,21.46h7M838,21.46h-7M476,17.37h7M838,17.37h-7M476,14.02h7M838,14.02h-7M476,11.19h7M838,11.19h-7M114.96,263.1v7M114.96,504v-7M125.96,263.1v7M125.96,504v-7M135.27,263.1v7M135.27,504v-7M143.33,263.1v7M143.33,504v-7M150.44,263.1v7M150.44,504v-7M156.8,263.1v14M156.8,504v-14M198.64,263.1v7M198.64,504v-7M223.12,263.1v7M223.12,504v-7M240.49,263.1v7M240.49,504v-7M253.96,263.1v7M253.96,504v-7M264.96,263.1v7M264.96,504v-7M274.27,263.1v7M274.27,504v-7M282.33,263.1v7M282.33,504v-7M289.44,263.1v7M289.44,504v-7M295.8,263.1v14M295.8,504v-14M337.64,263.1v7M337.64,504v-7M362.12,263.1v7M362.12,504v-7M379.49,263.1v7M379.49,504v-7M392.96,263.1v7M392.96,504v-7M403.96,263.1v7M403.96,504v-7M413.27,263.1v7M413.27,504v-7M421.33,263.1v7M421.33,504v-7M428.44,263.1v7M428.44,504v-7M434.8,263.1v14M434.8,504v-14M101,499.93h7M463,499.93h-7M101,492.49h7M463,492.49h-7M101,487.21h7M463,487.21h-7M101,483.12h7M463,483.12h-7M101,479.77h7M463,479.77h-7M101,476.94h7M463,476.94h-7M101,474.49h7M463,474.49h-7M101,472.33h7M463,472.33h-7M101,470.4h14M463,470.4h-14M101,457.68h7M463,457.68h-7M101,450.24h7M463,450.24h-7M101,444.96h7M463,444.96h-7M101,440.87h7M463,440.87h-7M101,437.52h7M463,437.52h-7M101,434.69h7M463,434.69h-7M101,432.24h7M463,432.24h-7M101,430.08h7M463,430.08h-7M101,428.15h14M463,428.15h-14M101,415.43h7M463,415.43h-7M101,407.99h7M463,407.99h-7M101,402.71h7M463,402.71h-7M101,398.62h7M463,398.62h-7M101,395.27h7M463,395.27h-7M101,392.44h7M463,392.44h-7M101,389.99h7M463,389.99h-7M101,387.83h7M463,387.83h-7M101,385.9h14M463,385.9h-14M101,373.18h7M463,373.18h-7M101,365.74h7M463,365.74h-7M101,360.46h7M463,360.46h-7M101,356.37h7M463,356.37h-7M101,353.02h7M463,353.02h-7M101,350.19h7M463,350.19h-7M101,347.74h7M463,347.74h-7M101,345.58h7M463,345.58h-7M101,343.65h14M463,343.65h-14M101,330.93h7M463,330.93h-7M101,323.49h7M463,323.49h-7M101,318.21h7M463,318.21h-7M101,314.12h7M463,314.12h-7M101,310.77h7M463,310.77h-7M101,307.94h7M463,307.94h-7M101,305.49h7M463,305.49h-7M101,303.33h7M463,303.33h-7M101,301.4h14M463,301.4h-14M101,288.68h7M463,288.68h-7M101,281.24h7M463,281.24h-7M101,275.96h7M463,275.96h-7M101,271.87h7M463,271.87h-7M101,268.52h7M463,268.52h-7M101,265.69h7M463,265.69h-7M489.96,263.1v7M489.96,504v-7M500.96,263.1v7M500.96,504v-7M510.27,263.1v7M510.27,504v-7M518.33,263.1v7M518.33,504v-7M525.44,263.1v7M525.44,504v-7M531.8,263.1v14M531.8,504v-14M573.64,263.1v7M573.64,504v-7M598.12,263.1v7M598.12,504v-7M615.49,263.1v7M615.49,504v-7M628.96,263.1v7M628.96,504v-7M639.96,263.1v7M639.96,504v-7M649.27,263.1v7M649.27,504v-7M657.33,263.1v7M657.33,504v-7M664.44,263.1v7M664.44,504v-7M670.8,263.1v14M670.8,504v-14M712.64,263.1v7M712.64,504v-7M737.12,263.1v7M737.12,504v-7M754.49,263.1v7M754.49,504v-7M767.96,263.1v7M767.96,504v-7M778.96,263.1v7M778.96,504v-7M788.27,263.1v7M788.27,504v-7M796.33,263.1v7M796.33,504v-7M803.44,263.1v7M803.44,504v-7M809.8,263.1v14M809.8,504v-14M476,499.93h7M838,499.93h-7M476,492.49h7M838,492.49h-7M476,487.21h7M838,487.21h-7M476,483.12h7M838,483.12h-7M476,479.77h7M838,479.77h-7M476,476.94h7M838,476.94h-7M476,474.49h7M838,474.49h-7M476,472.33h7M838,472.33h-7M476,470.4h14M838,470.4h-14M476,457.68h7M838,457.68h-7M476,450.24h7M838,450.24h-7M476,444.96h7M838,444.96h-7M476,440.87h7M838,440.87h-7M476,437.52h7M838,437.52h-7M476,434.69h7M838,434.69h-7M476,432.24h7M838,432.24h-7M476,430.08h7M838,430.08h-7M476,428.15h14M838,428.15h-14M476,415.43h7M838,415.43h-7M476,407.99h7M838,407.99h-7M476,402.71h7M838,402.71h-7M476,398.62h7M838,398.62h-7M476,395.27h7M838,395.27h-7M476,392.44h7M838,392.44h-7M476,389.99h7M838,389.99h-7M476,387.83h7M838,387.83h-7M476,385.9h14M838,385.9h-14M476,373.18h7M838,373.18h-7M476,365.74h7M838,365.74h-7M476,360.46h7M838,360.46h-7M476,356.37h7M838,356.37h-7M476,353.02h7M838,353.02h-7M476,350.19h7M838,350.19h-7M476,347.74h7M838,347.74h-7M476,345.58h7M838,345.58h-7M476,343.65h14M838,343.65h-14M476,330.93h7M838,330.93h-7M476,323.49h7M838,323.49h-7M476,318.21h7M838,318.21h-7M476,314.12h7M838,314.12h-7M476,310.77h7M838,310.77h-7M476,307.94h7M838,307.94h-7M476,305.49h7M838,305.49h-7M476,303.33h7M838,303.33h-7M476,301.4h14M838,301.4h-14M476,288.68h7M838,288.68h-7M476,281.24h7M838,281.24h-7M476,275.96h7M838,275.96h-7M476,271.87h7M838,271.87h-7M476,268.52h7M838,268.52h-7M476,265.69h7M838,265.69h-7M114.96,517.6v7M114.96,757.9v-7M125.96,517.6v7M125.96,757.9v-7M135.27,517.6v7M135.27,757.9v-7M143.33,517.6v7M143.33,757.9v-7M150.44,517.6v7M150.44,757.9v-7M156.8,517.6v14M156.8,757.9v-14M198.64,517.6v7M198.64,757.9v-7M223.12,517.6v7M223.12,757.9v-7M240.49,517.6v7M240.49,757.9v-7M253.96,517.6v7M253.96,757.9v-7M264.96,517.6v7M264.96,757.9v-7M274.27,517.6v7M274.27,757.9v-7M282.33,517.6v7M282.33,757.9v-7M289.44,517.6v7M289.44,757.9v-7M295.8,517.6v14M295.8,757.9v-14M337.64,517.6v7M337.64,757.9v-7M362.12,517.6v7M362.12,757.9v-7M379.49,517.6v7M379.49,757.9v-7M392.96,517.6v7M392.96,757.9v-7M403.96,517.6v7M403.96,757.9v-7M413.27,517.6v7M413.27,757.9v-7M421.33,517.6v7M421.33,757.9v-7M428.44,517.6v7M428.44,757.9v-7M434.8,517.6v14M434.8,757.9v-14M101,745.8h14M463,745.8h-14M101,724.65h7M463,724.65h-7M101,703.5h7M463,703.5h-7M101,682.35h7M463,682.35h-7M101,661.2h14M463,661.2h-14M101,640.05h7M463,640.05h-7M101,618.9h7M463,618.9h-7M101,597.75h7M463,597.75h-7M101,576.6h14M463,576.6h-14M101,555.45h7M463,555.45h-7M101,534.3h7M463,534.3h-7M489.96,517.6v7M489.96,757.9v-7M500.96,517.6v7M500.96,757.9v-7M510.27,517.6v7M510.27,757.9v-7M518.33,517.6v7M518.33,757.9v-7M525.44,517.6v7M525.44,757.9v-7M531.8,517.6v14M531.8,757.9v-14M573.64,517.6v7M573.64,757.9v-7M598.12,517.6v7M598.12,757.9v-7M615.49,517.6v7M615.49,757.9v-7M628.96,517.6v7M628.96,757.9v-7M639.96,517.6v7M639.96,757.9v-7M649.27,517.6v7M649.27,757.9v-7M657.33,517.6v7M657.33,757.9v-7M664.44,517.6v7M664.44,757.9v-7M670.8,517.6v14M670.8,757.9v-14M712.64,517.6v7M712.64,757.9v-7M737.12,517.6v7M737.12,757.9v-7M754.49,517.6v7M754.49,757.9v-7M767.96,517.6v7M767.96,757.9v-7M778.96,517.6v7M778.96,757.9v-7M788.27,517.6v7M788.27,757.9v-7M796.33,517.6v7M796.33,757.9v-7M803.44,517.6v7M803.44,757.9v-7M809.8,517.6v14M809.8,757.9v-14M476,745.8h14M838,745.8h-14M476,724.65h7M838,724.65h-7M476,703.5h7M838,703.5h-7M476,682.35h7M838,682.35h-7M476,661.2h14M838,661.2h-14M476,640.05h7M838,640.05h-7M476,618.9h7M838,618.9h-7M476,597.75h7M838,597.75h-7M476,576.6h14M838,576.6h-14M476,555.45h7M838,555.45h-7M476,534.3h7M838,534.3h-7" stroke="#000" stroke-width="1.5" fill="none"/>
<rect x="101" y="8.9" width="362" height="240.8" fill="none" stroke="#000" stroke-width="1.65"/>
<rect x="476" y="8.9" width="362" height="240.8" fill="none" stroke="#000" stroke-width="1.65"/>
<rect x="101" y="263.1" width="362" height="240.9" fill="none" stroke="#000" stroke-width="1.65"/>
<rect x="476" y="263.1" width="362" height="240.9" fill="none" stroke="#000" stroke-width="1.65"/>
<rect x="101" y="517.6" width="362" height="240.3" fill="none" stroke="#000" stroke-width="1.65"/>
<rect x="476" y="517.6" width="362" height="240.3" fill="none" stroke="#000" stroke-width="1.65"/>
<g font-family='"Liberation Serif", serif' fill="#000" opacity="0.999">
<text transform="translate(52.28,54.4) scale(0.778,1.001)" font-size="23" stroke="#000" stroke-width="0.75">1</text>
<text transform="translate(63.25,54.4) scale(1.139,0.994)" font-size="23" stroke="#000" stroke-width="0.26">0</text>
<text transform="translate(76.25,54.4) scale(1.139,0.994)" font-size="23" stroke="#000" stroke-width="0.26">0</text>
<text transform="translate(65.28,96.65) scale(0.778,1.001)" font-size="23" stroke="#000" stroke-width="0.75">1</text>
<text transform="translate(76.25,96.65) scale(1.139,0.994)" font-size="23" stroke="#000" stroke-width="0.26">0</text>
<text transform="translate(78.28,138.9) scale(0.778,1.001)" font-size="23" stroke="#000" stroke-width="0.75">1</text>
<text transform="translate(56.75,181.15) scale(1.139,0.994)" font-size="23" stroke="#000" stroke-width="0.26">0</text>
<text transform="translate(69.83,181.15) scale(1.067,1.000)" font-size="23" stroke="#000" stroke-width="0.19">.</text>
<text transform="translate(78.28,181.15) scale(0.778,1.001)" font-size="23" stroke="#000" stroke-width="0.75">1</text>
<text transform="translate(43.75,223.4) scale(1.139,0.994)" font-size="23" stroke="#000" stroke-width="0.26">0</text>
<text transform="translate(56.83,223.4) scale(1.067,1.000)" font-size="23" stroke="#000" stroke-width="0.19">.</text>
<text transform="translate(63.25,223.4) scale(1.139,0.994)" font-size="23" stroke="#000" stroke-width="0.26">0</text>
<text transform="translate(78.28,223.4) scale(0.778,1.001)" font-size="23" stroke="#000" stroke-width="0.75">1</text>
<text transform="translate(52.28,308.9) scale(0.778,1.001)" font-size="23" stroke="#000" stroke-width="0.75">1</text>
<text transform="translate(63.25,308.9) scale(1.139,0.994)" font-size="23" stroke="#000" stroke-width="0.26">0</text>
<text transform="translate(76.25,308.9) scale(1.139,0.994)" font-size="23" stroke="#000" stroke-width="0.26">0</text>
<text transform="translate(65.28,351.15) scale(0.778,1.001)" font-size="23" stroke="#000" stroke-width="0.75">1</text>
<text transform="translate(76.25,351.15) scale(1.139,0.994)" font-size="23" stroke="#000" stroke-width="0.26">0</text>
<text transform="translate(78.28,393.4) scale(0.778,1.001)" font-size="23" stroke="#000" stroke-width="0.75">1</text>
<text transform="translate(56.75,435.65) scale(1.139,0.994)" font-size="23" stroke="#000" stroke-width="0.26">0</text>
<text transform="translate(69.83,435.65) scale(1.067,1.000)" font-size="23" stroke="#000" stroke-width="0.19">.</text>
<text transform="translate(78.28,435.65) scale(0.778,1.001)" font-size="23" stroke="#000" stroke-width="0.75">1</text>
<text transform="translate(43.75,477.9) scale(1.139,0.994)" font-size="23" stroke="#000" stroke-width="0.26">0</text>
<text transform="translate(56.83,477.9) scale(1.067,1.000)" font-size="23" stroke="#000" stroke-width="0.19">.</text>
<text transform="translate(63.25,477.9) scale(1.139,0.994)" font-size="23" stroke="#000" stroke-width="0.26">0</text>
<text transform="translate(78.28,477.9) scale(0.778,1.001)" font-size="23" stroke="#000" stroke-width="0.75">1</text>
<text transform="translate(43.75,584.1) scale(1.139,0.994)" font-size="23" stroke="#000" stroke-width="0.26">0</text>
<text transform="translate(56.83,584.1) scale(1.067,1.000)" font-size="23" stroke="#000" stroke-width="0.19">.</text>
<text transform="translate(63.25,584.1) scale(1.139,0.994)" font-size="23" stroke="#000" stroke-width="0.26">0</text>
<text transform="translate(76.09,584.1) scale(1.193,0.998)" font-size="23" stroke="#000" stroke-width="0.25">2</text>
<text transform="translate(76.25,668.7) scale(1.139,0.994)" font-size="23" stroke="#000" stroke-width="0.26">0</text>
<rect x="29.05" y="745.05" width="11.7" height="1.5" fill="#000"/>
<text transform="translate(43.75,753.3) scale(1.139,0.994)" font-size="23" stroke="#000" stroke-width="0.26">0</text>
<text transform="translate(56.83,753.3) scale(1.067,1.000)" font-size="23" stroke="#000" stroke-width="0.19">.</text>
<text transform="translate(63.25,753.3) scale(1.139,0.994)" font-size="23" stroke="#000" stroke-width="0.26">0</text>
<text transform="translate(76.09,753.3) scale(1.193,0.998)" font-size="23" stroke="#000" stroke-width="0.25">2</text>
<text transform="translate(134,784.4) scale(1.139,0.994)" font-size="23" stroke="#000" stroke-width="0.26">0</text>
<text transform="translate(147.08,784.4) scale(1.067,1.000)" font-size="23" stroke="#000" stroke-width="0.19">.</text>
<text transform="translate(153.5,784.4) scale(1.139,0.994)" font-size="23" stroke="#000" stroke-width="0.26">0</text>
<text transform="translate(168.53,784.4) scale(0.778,1.001)" font-size="23" stroke="#000" stroke-width="0.75">1</text>
<text transform="translate(279.5,784.4) scale(1.139,0.994)" font-size="23" stroke="#000" stroke-width="0.26">0</text>
<text transform="translate(292.58,784.4) scale(1.067,1.000)" font-size="23" stroke="#000" stroke-width="0.19">.</text>
<text transform="translate(301.03,784.4) scale(0.778,1.001)" font-size="23" stroke="#000" stroke-width="0.75">1</text>
<text transform="translate(430.28,784.4) scale(0.778,1.001)" font-size="23" stroke="#000" stroke-width="0.75">1</text>
<text transform="translate(509,784.4) scale(1.139,0.994)" font-size="23" stroke="#000" stroke-width="0.26">0</text>
<text transform="translate(522.08,784.4) scale(1.067,1.000)" font-size="23" stroke="#000" stroke-width="0.19">.</text>
<text transform="translate(528.5,784.4) scale(1.139,0.994)" font-size="23" stroke="#000" stroke-width="0.26">0</text>
<text transform="translate(543.53,784.4) scale(0.778,1.001)" font-size="23" stroke="#000" stroke-width="0.75">1</text>
<text transform="translate(654.5,784.4) scale(1.139,0.994)" font-size="23" stroke="#000" stroke-width="0.26">0</text>
<text transform="translate(667.58,784.4) scale(1.067,1.000)" font-size="23" stroke="#000" stroke-width="0.19">.</text>
<text transform="translate(676.03,784.4) scale(0.778,1.001)" font-size="23" stroke="#000" stroke-width="0.75">1</text>
<text transform="translate(805.28,784.4) scale(0.778,1.001)" font-size="23" stroke="#000" stroke-width="0.75">1</text>
<text transform="translate(383.33,45.7) scale(1.086,1.019)" font-size="26.5" stroke="#000" stroke-width="0.41">z</text>
<rect x="399.3" y="34.6" width="14.4" height="1.5" fill="#000"/>
<rect x="399.3" y="39.3" width="14.4" height="1.5" fill="#000"/>
<text transform="translate(419.15,45.7) scale(0.793,0.995)" font-size="26.5" stroke="#000" stroke-width="0.6">1</text>
<text transform="translate(759.03,45.7) scale(1.086,1.019)" font-size="26.5" stroke="#000" stroke-width="0.41">z</text>
<rect x="774.5" y="34.6" width="14.4" height="1.5" fill="#000"/>
<rect x="774.5" y="39.3" width="14.4" height="1.5" fill="#000"/>
<text transform="translate(791.62,45.5) scale(1.169,0.980)" font-size="26.5" stroke="#000" stroke-width="0.3">3</text>
<text transform="translate(383.33,299.9) scale(1.086,1.019)" font-size="26.5" stroke="#000" stroke-width="0.41">z</text>
<rect x="399.3" y="288.8" width="14.4" height="1.5" fill="#000"/>
<rect x="399.3" y="293.5" width="14.4" height="1.5" fill="#000"/>
<text transform="translate(419.15,299.9) scale(0.793,0.995)" font-size="26.5" stroke="#000" stroke-width="0.6">1</text>
<text transform="translate(759.03,299.9) scale(1.086,1.019)" font-size="26.5" stroke="#000" stroke-width="0.41">z</text>
<rect x="774.5" y="288.8" width="14.4" height="1.5" fill="#000"/>
<rect x="774.5" y="293.5" width="14.4" height="1.5" fill="#000"/>
<text transform="translate(791.62,299.7) scale(1.169,0.980)" font-size="26.5" stroke="#000" stroke-width="0.3">3</text>
<text transform="translate(383.33,554.1) scale(1.086,1.019)" font-size="26.5" stroke="#000" stroke-width="0.41">z</text>
<rect x="399.3" y="543" width="14.4" height="1.5" fill="#000"/>
<rect x="399.3" y="547.7" width="14.4" height="1.5" fill="#000"/>
<text transform="translate(419.15,554.1) scale(0.793,0.995)" font-size="26.5" stroke="#000" stroke-width="0.6">1</text>
<text transform="translate(759.03,554.1) scale(1.086,1.019)" font-size="26.5" stroke="#000" stroke-width="0.41">z</text>
<rect x="774.5" y="543" width="14.4" height="1.5" fill="#000"/>
<rect x="774.5" y="547.7" width="14.4" height="1.5" fill="#000"/>
<text transform="translate(791.62,553.9) scale(1.169,0.980)" font-size="26.5" stroke="#000" stroke-width="0.3">3</text>
<text transform="translate(210.38,821.5) scale(1.036,0.952)" font-size="26.5" stroke="#000" stroke-width="0.1">k</text>
<text transform="translate(237.77,823) scale(1.136,1.185)" font-size="26.5" stroke="#000" stroke-width="0.42">[</text>
<text transform="translate(249.71,821.5) scale(1.123,0.952)" font-size="26.5" stroke="#000" stroke-width="0.09">h</text>
<text transform="translate(278.43,821.5) scale(0.745,1.009)" font-size="26.5" stroke="#000" stroke-width="0.35">M</text>
<text transform="translate(297.4,821.35) scale(1.171,1.037)" font-size="26.5" stroke="#000" stroke-width="0.09">p</text>
<text transform="translate(313.07,821.5) scale(1.117,1.033)" font-size="26.5" stroke="#000" stroke-width="0.09">c</text>
<rect x="329.3" y="809.6" width="8.5" height="1.5" fill="#000"/>
<text transform="translate(340.48,814.7) scale(0.852,0.969)" font-size="15" stroke="#000" stroke-width="0.52">1</text>
<text transform="translate(350.14,822.94) scale(1.000,1.144)" font-size="26.5" stroke="#000" stroke-width="0.44">]</text>
<text transform="translate(585.38,821.5) scale(1.036,0.952)" font-size="26.5" stroke="#000" stroke-width="0.1">k</text>
<text transform="translate(612.77,823) scale(1.136,1.185)" font-size="26.5" stroke="#000" stroke-width="0.42">[</text>
<text transform="translate(624.71,821.5) scale(1.123,0.952)" font-size="26.5" stroke="#000" stroke-width="0.09">h</text>
<text transform="translate(653.43,821.5) scale(0.745,1.009)" font-size="26.5" stroke="#000" stroke-width="0.35">M</text>
<text transform="translate(672.4,821.35) scale(1.171,1.037)" font-size="26.5" stroke="#000" stroke-width="0.09">p</text>
<text transform="translate(688.07,821.5) scale(1.117,1.033)" font-size="26.5" stroke="#000" stroke-width="0.09">c</text>
<rect x="704.3" y="809.6" width="8.5" height="1.5" fill="#000"/>
<text transform="translate(715.48,814.7) scale(0.852,0.969)" font-size="15" stroke="#000" stroke-width="0.52">1</text>
<text transform="translate(725.14,822.94) scale(1.000,1.144)" font-size="26.5" stroke="#000" stroke-width="0.44">]</text>
<g transform="translate(29,187.6) rotate(-90)">
<text transform="translate(-0.8,0) scale(1.053,1.026)" font-size="26.5" stroke="#000" stroke-width="0.09">P</text>
<text transform="translate(15.23,8) scale(0.905,1.000)" font-size="16.5" stroke="#000" stroke-width="0.55">c</text>
<text transform="translate(22.6,8) scale(1.150,1.000)" font-size="16" stroke="#000" stroke-width="0.48">b</text>
<text transform="translate(34.44,-0.64) scale(0.999,1.053)" font-size="26.5" stroke="#000" stroke-width="0.38">(</text>
<text transform="translate(44.98,0) scale(1.028,0.968)" font-size="26.5" stroke="#000" stroke-width="0.1">k</text>
<text transform="translate(61.73,0) scale(0.760,1.000)" font-size="26.5" stroke="#000" stroke-width="0.1">,</text>
<text transform="translate(68.01,0) scale(1.165,0.989)" font-size="26.5" stroke="#000" stroke-width="0.09">a</text>
<text transform="translate(84.45,-0.64) scale(0.999,1.053)" font-size="26.5" stroke="#000" stroke-width="0.38">)</text>
<line x1="95.7" y1="4.8" x2="109" y2="-19.5" stroke="#000" stroke-width="1.6"/>
<text transform="translate(110.81,0) scale(1.165,0.989)" font-size="26.5" stroke="#000" stroke-width="0.09">a</text>
<text transform="translate(125.41,-7.3) scale(1.263,1.019)" font-size="16" stroke="#000" stroke-width="0.08">2</text>
</g>
<g transform="translate(29,444.8) rotate(-90)">
<text transform="translate(-0.8,0) scale(1.053,1.026)" font-size="26.5" stroke="#000" stroke-width="0.09">P</text>
<text transform="translate(15.13,8) scale(0.905,1.000)" font-size="16.5" stroke="#000" stroke-width="0.55">c</text>
<text transform="translate(22.5,8) scale(1.150,1.000)" font-size="16" stroke="#000" stroke-width="0.48">b</text>
<text transform="translate(33.02,8) scale(1.240,1.000)" font-size="16.5" font-style="italic" stroke="#000" stroke-width="0.44">ν</text>
<text transform="translate(43.84,-0.64) scale(0.999,1.053)" font-size="26.5" stroke="#000" stroke-width="0.38">(</text>
<text transform="translate(54.38,0) scale(1.028,0.968)" font-size="26.5" stroke="#000" stroke-width="0.1">k</text>
<text transform="translate(71.13,0) scale(0.760,1.000)" font-size="26.5" stroke="#000" stroke-width="0.1">,</text>
<text transform="translate(77.41,0) scale(1.165,0.989)" font-size="26.5" stroke="#000" stroke-width="0.09">a</text>
<text transform="translate(93.85,-0.64) scale(0.999,1.053)" font-size="26.5" stroke="#000" stroke-width="0.38">)</text>
<line x1="105.1" y1="4.8" x2="118.4" y2="-19.5" stroke="#000" stroke-width="1.6"/>
<text transform="translate(120.21,0) scale(1.165,0.989)" font-size="26.5" stroke="#000" stroke-width="0.09">a</text>
<text transform="translate(134.81,-7.3) scale(1.263,1.019)" font-size="16" stroke="#000" stroke-width="0.08">2</text>
</g>
<g transform="translate(29,721.2) rotate(-90)">
<text transform="translate(-0.97,0) scale(0.964,1.006)" font-size="26.5" stroke="#000" stroke-width="0.1">Δ</text>
<text transform="translate(14.5,0) scale(1.045,1.026)" font-size="26.5" stroke="#000" stroke-width="0.1">P</text>
<text transform="translate(30.84,-0.64) scale(0.999,1.053)" font-size="26.5" stroke="#000" stroke-width="0.38">(</text>
<text transform="translate(41.38,0) scale(1.028,0.968)" font-size="26.5" stroke="#000" stroke-width="0.1">k</text>
<text transform="translate(58.13,0) scale(0.760,1.000)" font-size="26.5" stroke="#000" stroke-width="0.1">,</text>
<text transform="translate(64.41,0) scale(1.165,0.989)" font-size="26.5" stroke="#000" stroke-width="0.09">a</text>
<text transform="translate(80.85,-0.64) scale(0.999,1.053)" font-size="26.5" stroke="#000" stroke-width="0.38">)</text>
<line x1="93" y1="4.8" x2="106" y2="-19.5" stroke="#000" stroke-width="1.6"/>
<text transform="translate(109.01,0) scale(1.038,1.026)" font-size="26.5" stroke="#000" stroke-width="0.1">P</text>
<text transform="translate(125.34,-0.64) scale(0.999,1.053)" font-size="26.5" stroke="#000" stroke-width="0.38">(</text>
<text transform="translate(135.88,0) scale(1.028,0.968)" font-size="26.5" stroke="#000" stroke-width="0.1">k</text>
<text transform="translate(152.63,0) scale(0.760,1.000)" font-size="26.5" stroke="#000" stroke-width="0.1">,</text>
<text transform="translate(158.91,0) scale(1.165,0.989)" font-size="26.5" stroke="#000" stroke-width="0.09">a</text>
<text transform="translate(175.35,-0.64) scale(0.999,1.053)" font-size="26.5" stroke="#000" stroke-width="0.38">)</text>
</g>
</g>
</svg>
</body></html>
